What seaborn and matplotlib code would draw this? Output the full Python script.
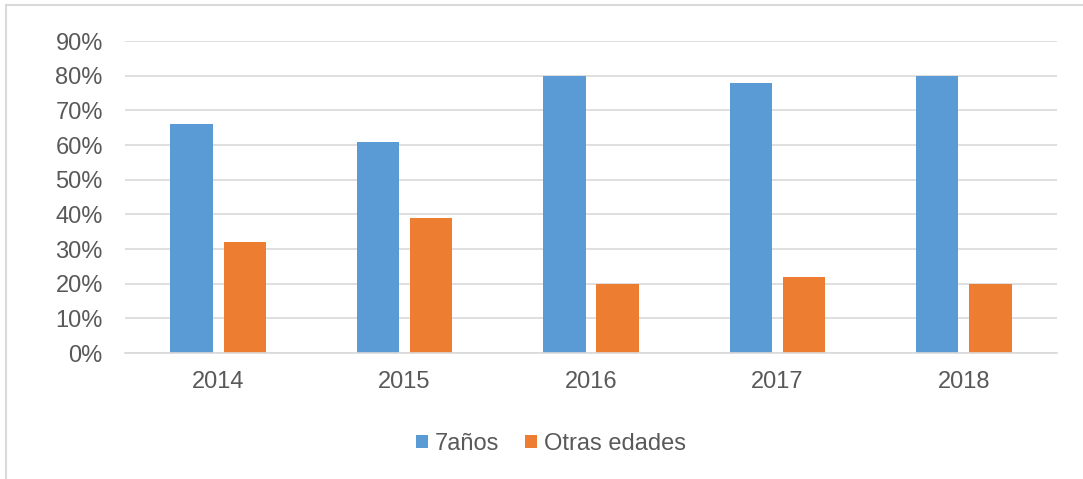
import matplotlib
matplotlib.use("Agg")
import matplotlib.pyplot as plt
from matplotlib.lines import Line2D
from matplotlib.patches import Patch
from matplotlib.ticker import PercentFormatter
import seaborn as sns
import pandas as pd

years = ["2014", "2015", "2016", "2017", "2018"]
siete_anos = [0.66, 0.61, 0.80, 0.78, 0.80]
otras_edades = [0.32, 0.39, 0.20, 0.22, 0.20]
series_names = ["7años", "Otras edades"]
colors = ["#5B9BD5", "#ED7D31"]
yticks = [0.0, 0.1, 0.2, 0.3, 0.4, 0.5, 0.6, 0.7, 0.8, 0.9]

df = pd.DataFrame({
    "year": years * 2,
    "value": siete_anos + otras_edades,
    "serie": [series_names[0]] * len(years) + [series_names[1]] * len(years),
})

sns.set_theme(style="white")
plt.rcParams["font.family"] = ["Liberation Sans", "DejaVu Sans"]
text_color = "#595959"
grid_color = "#D9D9D9"

fig = plt.figure(figsize=(10.83, 4.79), dpi=100)
ax = fig.add_axes([125 / 1083, 1 - 353 / 479, (1057 - 125) / 1083, (353 - 41) / 479])

sns.barplot(data=df, x="year", y="value", hue="serie", palette=colors,
            width=0.57, gap=0.2, linewidth=0, ax=ax, legend=False, saturation=1)

ax.set_ylim(0, 0.9)
ax.set_xlim(-0.5, len(years) - 0.5)
ax.set_yticks(yticks)
ax.yaxis.set_major_formatter(PercentFormatter(1.0, decimals=0))
ax.yaxis.grid(True, color=grid_color, linewidth=1.2)
ax.set_axisbelow(True)
ax.set_xlabel("")
ax.set_ylabel("")
for s in ["top", "right", "left"]:
    ax.spines[s].set_visible(False)
ax.spines["bottom"].set_color(grid_color)
ax.spines["bottom"].set_linewidth(1.2)
ax.tick_params(axis="y", length=0, pad=16, labelsize=17, labelcolor=text_color)
ax.tick_params(axis="x", length=0, pad=13, labelsize=17, labelcolor=text_color)

handles = [Patch(facecolor=c, edgecolor="none") for c in colors]
fig.legend(handles, series_names, loc="center", bbox_to_anchor=(0.509, 1 - 444 / 479),
           ncol=2, frameon=False, fontsize=17, labelcolor=text_color,
           handlelength=0.5, handleheight=0.5, handletextpad=0.3, columnspacing=1.1)

# chart border (top and left visible)
fig.add_artist(Line2D([6 / 1083, 1.0], [1 - 5 / 479, 1 - 5 / 479], transform=fig.transFigure,
                      color=grid_color, linewidth=1.5))
fig.add_artist(Line2D([6 / 1083, 6 / 1083], [0, 1 - 5 / 479], transform=fig.transFigure,
                      color=grid_color, linewidth=1.5))

fig.savefig("out.png", dpi=100, facecolor="white")
